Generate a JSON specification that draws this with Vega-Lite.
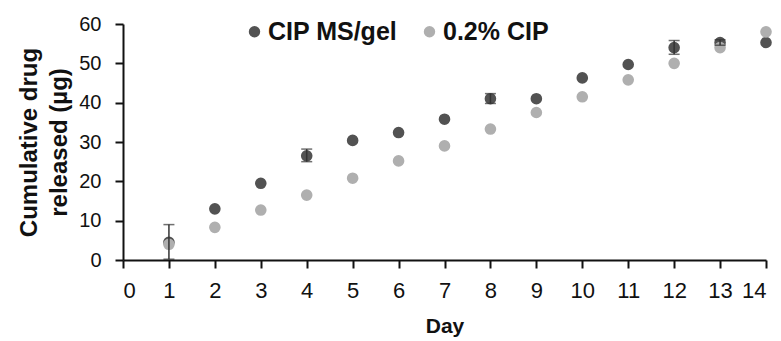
{
  "$schema": "https://vega.github.io/schema/vega-lite/v6.json",
  "autosize": {"type": "none"},
  "width": 643,
  "height": 236,
  "padding": {"left": 123, "top": 24, "right": 15, "bottom": 81},
  "background": "white",
  "config": {
    "font": "Liberation Sans",
    "view": {"stroke": null},
    "axis": {
      "grid": false, "domainColor": "#111", "domainWidth": 2,
      "tickColor": "#111", "tickWidth": 2, "tickSize": 8,
      "labelColor": "#111",
      "titleFontWeight": "bold", "titleColor": "#111"
    },
    "axisX": {"titlePadding": 14, "tickCount": 14, "labelFontSize": 22, "labelPadding": 12, "titleFontSize": 21},
    "axisY": {"titlePadding": 7, "tickCount": 6, "labelFontSize": 20, "labelPadding": 14, "titleFontSize": 24, "titleLineHeight": 30}
  },
  "datasets": {
    "pts": [
      {"day": 1, "value": 4.5, "series": "CIP MS/gel"},
      {"day": 2, "value": 13.0, "series": "CIP MS/gel"},
      {"day": 3, "value": 19.5, "series": "CIP MS/gel"},
      {"day": 4, "value": 26.5, "series": "CIP MS/gel"},
      {"day": 5, "value": 30.4, "series": "CIP MS/gel"},
      {"day": 6, "value": 32.4, "series": "CIP MS/gel"},
      {"day": 7, "value": 35.8, "series": "CIP MS/gel"},
      {"day": 8, "value": 41.0, "series": "CIP MS/gel"},
      {"day": 9, "value": 41.0, "series": "CIP MS/gel"},
      {"day": 10, "value": 46.3, "series": "CIP MS/gel"},
      {"day": 11, "value": 49.7, "series": "CIP MS/gel"},
      {"day": 12, "value": 54.0, "series": "CIP MS/gel"},
      {"day": 13, "value": 55.3, "series": "CIP MS/gel"},
      {"day": 14, "value": 55.3, "series": "CIP MS/gel"},
      {"day": 1, "value": 4.0, "series": "0.2% CIP"},
      {"day": 2, "value": 8.3, "series": "0.2% CIP"},
      {"day": 3, "value": 12.7, "series": "0.2% CIP"},
      {"day": 4, "value": 16.5, "series": "0.2% CIP"},
      {"day": 5, "value": 20.8, "series": "0.2% CIP"},
      {"day": 6, "value": 25.2, "series": "0.2% CIP"},
      {"day": 7, "value": 29.0, "series": "0.2% CIP"},
      {"day": 8, "value": 33.3, "series": "0.2% CIP"},
      {"day": 9, "value": 37.5, "series": "0.2% CIP"},
      {"day": 10, "value": 41.5, "series": "0.2% CIP"},
      {"day": 11, "value": 45.8, "series": "0.2% CIP"},
      {"day": 12, "value": 50.0, "series": "0.2% CIP"},
      {"day": 13, "value": 54.0, "series": "0.2% CIP"},
      {"day": 14, "value": 58.0, "series": "0.2% CIP"}
    ],
    "err": [
      {"day": 1, "lo": 0.2, "hi": 9.0},
      {"day": 4, "lo": 25.0, "hi": 28.2},
      {"day": 8, "lo": 39.8, "hi": 42.3},
      {"day": 12, "lo": 52.3, "hi": 55.8},
      {"day": 13, "lo": 54.6, "hi": 56.0}
    ]
  },
  "layer": [
    {
      "data": {"name": "pts"},
      "mark": {"type": "circle", "size": 135, "opacity": 1},
      "encoding": {
        "x": {
          "field": "day", "type": "quantitative",
          "scale": {"domain": [0, 14], "nice": false},
          "title": "Day"
        },
        "y": {
          "field": "value", "type": "quantitative",
          "scale": {"domain": [0, 60], "nice": false},
          "title": ["Cumulative drug", "released (µg)"]
        },
        "color": {
          "field": "series", "type": "nominal",
          "scale": {"domain": ["CIP MS/gel", "0.2% CIP"], "range": ["#525252", "#afafaf"]},
          "legend": {
            "title": null, "orient": "none", "direction": "horizontal",
            "legendX": 119, "legendY": -5,
            "labelFontSize": 25, "labelFontWeight": "bold", "labelColor": "#111", "symbolSize": 130,
            "symbolType": "circle", "columnPadding": 19, "labelOffset": 1
          }
        },
        "order": {"field": "series", "sort": "descending"}
      }
    },
    {
      "data": {"name": "err"},
      "mark": {"type": "rule", "color": "#333", "strokeWidth": 1.5},
      "encoding": {
        "x": {"field": "day", "type": "quantitative", "title": "Day"},
        "y": {"field": "lo", "type": "quantitative", "title": ["Cumulative drug", "released (µg)"]},
        "y2": {"field": "hi"}
      }
    },
    {
      "data": {"name": "err"},
      "mark": {"type": "tick", "orient": "horizontal", "color": "#333", "size": 11, "thickness": 1.5},
      "encoding": {
        "x": {"field": "day", "type": "quantitative", "title": "Day"},
        "y": {"field": "hi", "type": "quantitative", "title": ["Cumulative drug", "released (µg)"]}
      }
    },
    {
      "data": {"name": "err"},
      "mark": {"type": "tick", "orient": "horizontal", "color": "#333", "size": 11, "thickness": 1.5},
      "encoding": {
        "x": {"field": "day", "type": "quantitative", "title": "Day"},
        "y": {"field": "lo", "type": "quantitative", "title": ["Cumulative drug", "released (µg)"]}
      }
    }
  ]
}
